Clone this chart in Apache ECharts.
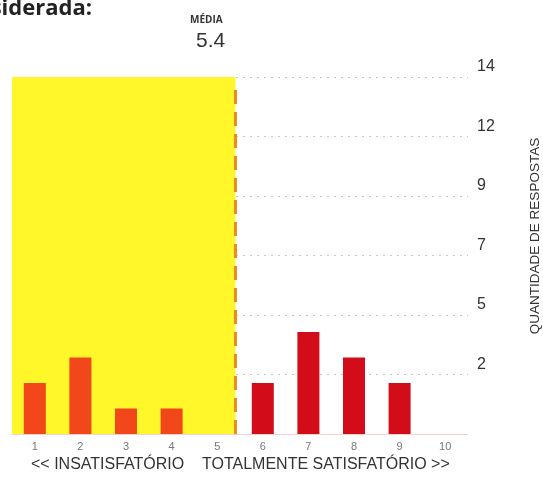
<!DOCTYPE html>
<html><head><meta charset="utf-8">
<script src="https://cdn.jsdelivr.net/npm/echarts@6/dist/echarts.min.js"></script>
<style>html,body{margin:0;padding:0;background:#fff}#c{width:543px;height:477px}</style>
</head><body><div id="c"></div>
<script>
var categories = ['1','2','3','4','5','6','7','8','9','10'];
var counts = [2, 3, 1, 1, 0, 2, 4, 3, 2, 0];
var meanValue = 5.4;
var yTickLabels = ['', '2', '5', '7', '9', '12', '14'];
var yMax = 14;

var chart = echarts.init(document.getElementById('c'));
chart.setOption({
  animation: false,
  grid: {left: 12, right: 75, top: 77, bottom: 43},
  xAxis: [{
    type: 'category', data: categories,
    axisLine: {show: true, lineStyle: {color: '#f4d0d0', width: 1}},
    axisTick: {show: false},
    axisLabel: {color: '#777', fontSize: 11, fontFamily: 'Liberation Sans', margin: 7}
  }, {
    type: 'value', min: 0.5, max: 10.5, show: false
  }],
  yAxis: {
    type: 'value', position: 'right', min: 0, max: yMax, interval: yMax / 6,
    axisLine: {show: false}, axisTick: {show: false},
    axisLabel: {
      color: '#333', fontSize: 16, fontFamily: 'Liberation Sans', margin: 9, align: 'left',
      verticalAlign: 'bottom', lineHeight: 20,
      formatter: function (v) { return yTickLabels[Math.round(v / (yMax / 6))]; }
    },
    splitLine: {lineStyle: {color: '#c4c4c4', type: [2, 5], width: 1}}
  },
  series: [{
    type: 'line', xAxisIndex: 1, data: [], symbol: 'none',
    markArea: {
      silent: true,
      itemStyle: {color: '#fff61a', opacity: 0.93},
      data: [[{xAxis: 0.5, yAxis: 0}, {xAxis: meanValue, yAxis: yMax}]]
    },
    markLine: {
      silent: true, symbol: 'none', label: {show: false},
      lineStyle: {color: '#f08a1e', width: 3, type: [14, 8]},
      data: [[{coord: [meanValue, 0]}, {coord: [meanValue, yMax - 0.4]}]]
    }
  }, {
    type: 'bar', data: counts, barWidth: 22, z: 5,
    itemStyle: {color: function (p) { return p.dataIndex < 5 ? '#f2461b' : '#d30c1a'; }}
  }],
  graphic: [
    {type: 'text', right: 451, top: -2, style: {text: 'considerada:', font: 'bold 22px "Open Sans"', fill: '#222'}},
    {type: 'text', left: 190, top: 15, style: {text: 'MÉDIA', font: 'bold 10px "Open Sans"', fill: '#333'}},
    {type: 'text', left: 196, top: 31, style: {text: String(meanValue), font: '21px "Liberation Sans"', fill: '#333'}},
    {type: 'text', x: 535, y: 236, rotation: Math.PI / 2,
      style: {text: 'QUANTIDADE DE RESPOSTAS', font: '13.5px "Liberation Sans"', fill: '#333', align: 'center', verticalAlign: 'middle'}},
    {type: 'text', left: 31, top: 457, style: {text: '<< INSATISFATÓRIO', font: '16px "Liberation Sans"', fill: '#333'}},
    {type: 'text', left: 202, top: 457, style: {text: 'TOTALMENTE SATISFATÓRIO >>', font: '16px "Liberation Sans"', fill: '#333'}}
  ]
});
</script></body></html>
